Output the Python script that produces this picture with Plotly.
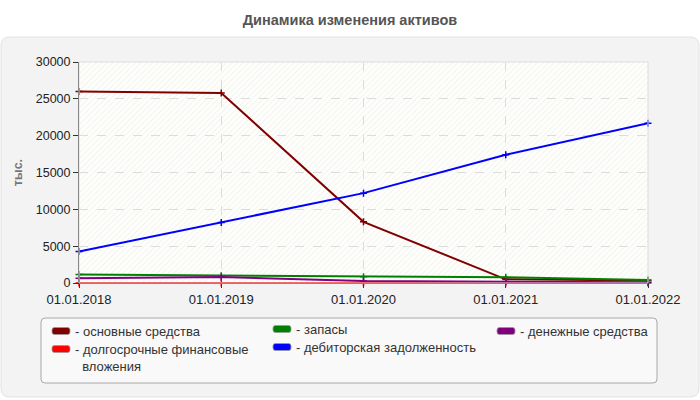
import base64
import plotly.graph_objects as go

dates = ["01.01.2018", "01.01.2019", "01.01.2020", "01.01.2021", "01.01.2022"]
osnovnye = [26000, 25800, 8300, 500, 350]
dolgosrochnye = [0, 0, 0, 0, 0]
zapasy = [1150, 990, 860, 770, 400]
debitorskaya = [4260, 8200, 12200, 17400, 21700]
denezhnye = [640, 800, 260, 200, 100]

names = ["основные средства", "долгосрочные финансовые вложения", "запасы",
         "дебиторская задолженность", "денежные средства"]
colors = ["#800000", "#ff0000", "#008000", "#0000ff", "#800080"]
series = [osnovnye, dolgosrochnye, zapasy, debitorskaya, denezhnye]

W, H = 700, 400
L, R, T, B = 79, 52, 62, 117
pw, ph = W - L - R, H - T - B
FONT = "Liberation Sans, Arial, sans-serif"


def px(x):
    return (x - L) / pw


def py(y):
    return (H - B - y) / ph


def rrect(x0, y0, x1, y1, r):
    p = [
        f"M {px(x0 + r)},{py(y0)}",
        f"L {px(x1 - r)},{py(y0)}",
        f"Q {px(x1)},{py(y0)} {px(x1)},{py(y0 + r)}",
        f"L {px(x1)},{py(y1 - r)}",
        f"Q {px(x1)},{py(y1)} {px(x1 - r)},{py(y1)}",
        f"L {px(x0 + r)},{py(y1)}",
        f"Q {px(x0)},{py(y1)} {px(x0)},{py(y1 - r)}",
        f"L {px(x0)},{py(y0 + r)}",
        f"Q {px(x0)},{py(y0)} {px(x0 + r)},{py(y0)}",
        "Z",
    ]
    return " ".join(p)


fig = go.Figure()
order = [0, 1, 2, 4, 3]
for i in order:
    fig.add_trace(go.Scatter(
        x=dates, y=series[i], name=names[i], mode="lines+markers",
        line=dict(color=colors[i], width=2),
        marker=dict(symbol="cross-thin", size=5, line=dict(color=colors[i], width=1.5)),
        showlegend=False, cliponaxis=False,
    ))

shapes = []
shapes.append(dict(type="path", xref="paper", yref="paper", layer="below",
                   path=rrect(1, 37, 699, 397, 9),
                   fillcolor="#f3f3f3", line=dict(color="#e2e2e2", width=1)))
shapes.append(dict(type="path", xref="paper", yref="paper", layer="below",
                   path=rrect(41, 318, 657, 383, 4),
                   fillcolor="#f9f9f9", line=dict(color="#a8a8a8", width=1)))
shapes.append(dict(type="rect", xref="x domain", yref="y domain", layer="below",
                   x0=0, x1=1, y0=0, y1=1, line=dict(width=0),
                   fillcolor="#fdfdfa"))
shapes.append(dict(type="rect", xref="x domain", yref="y domain", layer="above",
                   x0=0, x1=1, y0=0, y1=1, line=dict(color="#dddddd", width=1),
                   fillcolor="rgba(0,0,0,0)"))

annotations = []
legend_items = [
    (0, 52, 331, 73),
    (1, 52, 349, 73),
    (2, 273, 329, 294),
    (3, 273, 347, 294),
    (4, 497, 331, 518),
]
LFONT = dict(size=13, color="#333333", family=FONT)
for idx, sx, sy, tx in legend_items:
    shapes.append(dict(type="path", xref="paper", yref="paper", layer="above",
                       path=rrect(sx, sy - 3.5, sx + 18, sy + 3.5, 2.5),
                       fillcolor=colors[idx], line=dict(color="#999999", width=0.8)))
    if idx == 1:
        annotations.append(dict(xref="paper", yref="paper", x=px(tx), y=py(sy - 9.5),
                                xanchor="left", yanchor="top", align="left",
                                showarrow=False,
                                text="- долгосрочные финансовые<br>\u00a0\u00a0вложения",
                                font=LFONT))
    else:
        annotations.append(dict(xref="paper", yref="paper", x=px(tx), y=py(sy),
                                xanchor="left", yanchor="middle", showarrow=False,
                                text="- " + names[idx], font=LFONT))

svg = (f'<svg xmlns="http://www.w3.org/2000/svg" width="{pw}" height="{ph}">'
       '<defs><pattern id="p" width="4" height="4" patternUnits="userSpaceOnUse" '
       'patternTransform="rotate(45)"><rect width="4" height="4" fill="#fefefc"/>'
       '<line x1="0" y1="0" x2="0" y2="4" stroke="#eeeee8" stroke-width="1.3"/></pattern></defs>'
       '<rect width="100%" height="100%" fill="url(#p)"/></svg>')
src = "data:image/svg+xml;base64," + base64.b64encode(svg.encode()).decode()

fig.update_layout(
    width=W, height=H,
    margin=dict(l=L, r=R, t=T, b=B),
    paper_bgcolor="white",
    plot_bgcolor="#fdfdfa",
    font=dict(family=FONT, size=12, color="#222222"),
    title=dict(text="<b>Динамика изменения активов</b>", x=0.5, xanchor="center",
               y=1 - 20 / H, yanchor="middle",
               font=dict(size=14.5, color="#555555", family=FONT)),
    shapes=shapes,
    annotations=annotations,
    images=[dict(source=src, xref="x", yref="y", x=0, y=30000,
                 sizex=len(dates) - 1, sizey=30000,
                 xanchor="left", yanchor="top", sizing="stretch", layer="below")],
    showlegend=False,
)
fig.update_xaxes(type="category", range=[0, len(dates) - 1], showline=True,
                 linecolor="#333333", linewidth=1, ticks="outside", ticklen=4,
                 tickcolor="#333333", showgrid=True, gridcolor="#dcdcdc",
                 griddash="dash", tickfont=dict(size=13, color="#222222"),
                 zeroline=False, automargin=False)
fig.update_yaxes(range=[0, 30000], dtick=5000, tickformat="d", showline=True,
                 linecolor="#333333", linewidth=1, ticks="outside", ticklen=5,
                 tickcolor="#333333", showgrid=True, gridcolor="#dcdcdc",
                 griddash="dash", zeroline=False, automargin=False,
                 tickfont=dict(size=12.5, color="#222222"),
                 title=dict(text="<b>тыс.</b>", standoff=10,
                            font=dict(size=12.5, color="#777777", family=FONT)))

fig.write_html("out.html", post_script="document.body.style.margin='0';",
               config={"displayModeBar": False})
